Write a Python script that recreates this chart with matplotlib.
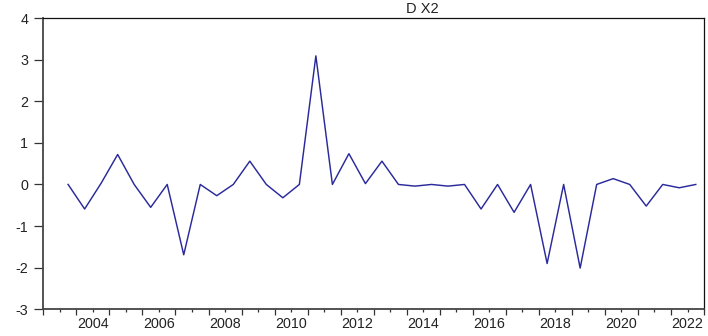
import matplotlib
matplotlib.use('Agg')
import matplotlib.pyplot as plt
from matplotlib.ticker import FixedLocator, FixedFormatter

plt.rcParams['font.family'] = ['Liberation Sans', 'DejaVu Sans']
plt.rcParams['axes.unicode_minus'] = False

# semi-annual first difference of X2, 2003S2 .. 2022S2
d_x2 = [0.0, -0.59, 0.03, 0.72, 0.0, -0.55, 0.0, -1.69, 0.0, -0.27,
        0.0, 0.56, 0.0, -0.32, 0.0, 3.09, 0.0, 0.74, 0.02, 0.56,
        0.0, -0.04, 0.0, -0.04, 0.0, -0.59, 0.0, -0.67, 0.0, -1.90,
        0.0, -2.01, 0.0, 0.14, 0.0, -0.52, 0.0, -0.08, 0.0]
first_period = 2003.75  # middle of 2003S2
y_ticks = [-3, -2, -1, 0, 1, 2, 3, 4]

t = [first_period + 0.5 * i for i in range(len(d_x2))]

fig = plt.figure(figsize=(7.08, 3.36), dpi=100)
ax = fig.add_axes([0.0612, 0.0795, 0.9332, 0.8669])

ax.plot(t, d_x2, color='#2a2a9c', lw=1.05)

ax.set_xlim(2003, 2023)
ax.set_ylim(-3, 4)

# long ticks on year boundaries, short ticks half way; labels sit mid-year
ax.xaxis.set_major_locator(FixedLocator(range(2003, 2024)))
ax.xaxis.set_major_formatter(FixedFormatter([''] * 21))
half = [y + 0.5 for y in range(2003, 2023)]
ax.xaxis.set_minor_locator(FixedLocator(half))
ax.xaxis.set_minor_formatter(FixedFormatter(
    [str(int(h)) if int(h) % 2 == 0 else '' for h in half]))
ax.tick_params(axis='x', which='major', length=4.5, width=0.9, color='#333333')
ax.tick_params(axis='x', which='minor', length=2.3, width=0.9, color='#333333',
               labelsize=10.3, pad=3.0, labelcolor='#222222')

ax.set_yticks(y_ticks)
ax.tick_params(axis='y', length=6.5, width=0.9, color='#333333',
               labelsize=10.3, pad=4.5, labelcolor='#222222')

for side in ['left', 'bottom']:
    ax.spines[side].set_color('#444444')
    ax.spines[side].set_linewidth(1.3)
for side in ['top', 'right']:
    ax.spines[side].set_color('#111111')
    ax.spines[side].set_linewidth(0.9)

fig.text(0.597, 0.974, 'D X2', ha='center', va='center', fontsize=10.5,
         color='#222222')

fig.savefig('out.png', dpi=100)
